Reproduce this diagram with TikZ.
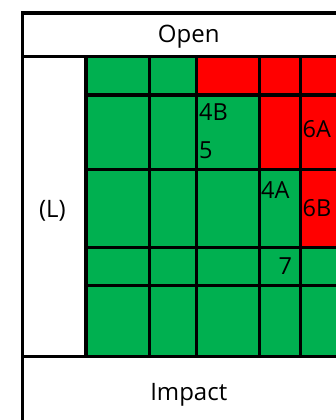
\documentclass[tikz,border=0pt]{standalone}
\usepackage{fontspec}
\setmainfont{Open Sans}
\definecolor{cgreen}{HTML}{00B050}
\definecolor{cred}{HTML}{FF0000}
\begin{document}
\begin{tikzpicture}[x=1pt,y=-1pt,
  cell/.style={draw=black, line width=3.4pt, inner sep=0pt, anchor=north west},
  frm/.style={draw=black, line width=3.4pt, inner sep=0pt, anchor=north west, fill=white},
  lbl/.style={anchor=base west, inner sep=0pt, font=\fontsize{23.5}{23.5}\selectfont},
  head/.style={anchor=base, inner sep=0pt, font=\fontsize{24}{24}\selectfont}]
\useasboundingbox (0,0) rectangle (336,420);
\clip (0,0) rectangle (336,420);
% frame
\node[frm, minimum width=336.5pt, minimum height=43.5pt] (openbox) at (20.5,11.5) {};
\node[frm, minimum width=63.8pt, minimum height=300pt] (lcol) at (20.5,55) {};
\node[frm, minimum width=336.5pt, minimum height=75pt] (impbox) at (20.5,355) {};
% grid cells
\foreach \r/\ya/\yb in {1/55/93.3, 2/93.3/168, 3/168/245.8, 4/245.8/284, 5/284/355}{
  \foreach \c/\xa/\xb in {1/84.3/147.5, 2/147.5/194.7, 3/194.7/257.5, 4/257.5/298.5, 5/298.5/345}{
    \def\fc{cgreen}
    \ifnum\r=1 \ifnum\c>2 \def\fc{cred}\fi\fi
    \ifnum\r=2 \ifnum\c>3 \def\fc{cred}\fi\fi
    \ifnum\r=3 \ifnum\c=5 \def\fc{cred}\fi\fi
    \node[cell, fill=\fc, minimum width={\xb pt-\xa pt}, minimum height={\yb pt-\ya pt}] (c\r\c) at (\xa,\ya) {};
  }
}
% headers
\node[head] (topen) at (188.75,42) {Open};
\node[head] (timpact) at (188.75,400) {Impact};
\node[head] (tleft) at (52.4,217) {(L)};
% labels
\node[lbl] (l4b) at (199,120) {4B};
\node[lbl] (l5) at (199,158) {5};
\node[lbl] (l6a) at (302.5,137.5) {6A};
\node[lbl] (l4a) at (261,198) {4A};
\node[lbl] (l6b) at (302.5,216) {6B};
\node[lbl] (l7) at (278.5,274.5) {7};
\end{tikzpicture}
\end{document}
